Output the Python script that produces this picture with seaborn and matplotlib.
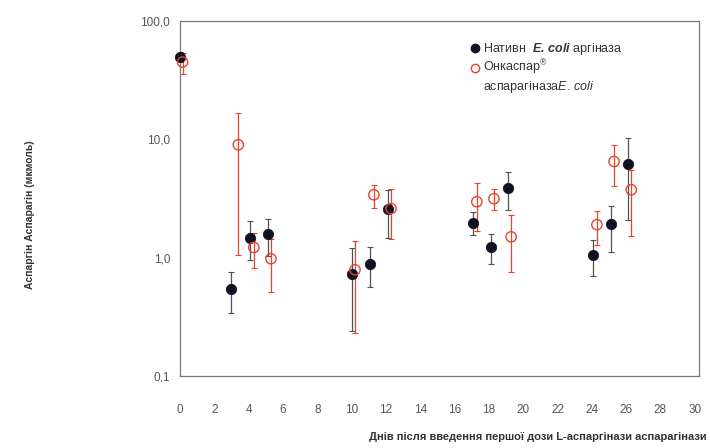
import matplotlib
matplotlib.use("Agg")
import matplotlib.pyplot as plt
import seaborn as sns
import pandas as pd
import numpy as np
from matplotlib.lines import Line2D

sns.set_style("white")
plt.rcParams['font.family'] = ['Liberation Sans', 'DejaVu Sans']
plt.rcParams['mathtext.fontset'] = 'custom'
plt.rcParams['mathtext.it'] = 'Liberation Sans:italic'
plt.rcParams['mathtext.rm'] = 'Liberation Sans'
plt.rcParams['mathtext.bf'] = 'Liberation Sans:bold:italic'

# Нативна E. coli аспарагіназа (чорні точки)
native_day = [0.0, 3.0, 4.1, 5.1, 10.05, 11.05, 12.1, 17.1, 18.1, 19.1, 24.1, 25.1, 26.1]
native_val = [50.0, 0.54, 1.48, 1.6, 0.73, 0.89, 2.6, 1.98, 1.24, 3.9, 1.06, 1.94, 6.2]
native_hi = [55.0, 0.75, 2.05, 2.14, 1.2, 1.24, 3.75, 2.45, 1.6, 5.3, 1.42, 2.75, 10.3]
native_lo = [45.0, 0.34, 0.95, 1.04, 0.24, 0.56, 1.48, 1.56, 0.89, 2.55, 0.70, 1.12, 2.1]

# Онкаспар (відкриті кола)
onc_day = [0.15, 3.4, 4.3, 5.3, 10.2, 11.3, 12.3, 17.3, 18.3, 19.3, 24.3, 25.3, 26.3]
onc_val = [45.0, 9.0, 1.22, 0.98, 0.79, 3.4, 2.6, 2.97, 3.15, 1.5, 1.9, 6.5, 3.75]
onc_hi = [54.0, 16.8, 1.63, 1.45, 1.37, 4.1, 3.8, 4.3, 3.8, 2.3, 2.5, 8.9, 5.5]
onc_lo = [36.0, 1.05, 0.81, 0.51, 0.23, 2.65, 1.45, 1.69, 2.55, 0.75, 1.29, 4.0, 1.53]

x_ticks = list(range(0, 31, 2))
y_ticks = [0.1, 1, 10, 100]
y_labels = ['0,1', '1,0', '10,0', '100,0']

native = pd.DataFrame({'day': native_day, 'val': native_val})
onc = pd.DataFrame({'day': onc_day, 'val': onc_val})

fig = plt.figure(figsize=(7.1, 4.48), dpi=100)
ax = fig.add_axes([180 / 710, 1 - 376 / 448, 519 / 710, 355 / 448])

red = '#e8432e'
ax.errorbar(native_day, native_val,
            yerr=[np.array(native_val) - np.array(native_lo), np.array(native_hi) - np.array(native_val)],
            fmt='none', ecolor='#505050', elinewidth=0.9, capsize=2, capthick=0.8, zorder=2)
ax.errorbar(onc_day, onc_val,
            yerr=[np.array(onc_val) - np.array(onc_lo), np.array(onc_hi) - np.array(onc_val)],
            fmt='none', ecolor=red, elinewidth=0.9, capsize=2, capthick=0.8, zorder=2)

sns.scatterplot(data=native, x='day', y='val', ax=ax, color='#111122', s=55,
                edgecolor='#111122', zorder=3, clip_on=False)
sns.scatterplot(data=onc, x='day', y='val', ax=ax, facecolor='none', s=55,
                edgecolor=red, linewidth=1.0, zorder=4, clip_on=False)

ax.set_yscale('log')
ax.set_ylim(0.1, 100)
ax.set_xlim(0, 30.25)
ax.set_xticks(x_ticks)
ax.set_yticks(y_ticks)
ax.set_yticklabels(y_labels)
ax.minorticks_off()
ax.tick_params(axis='x', length=3, width=0.8, color='#888888', pad=17,
               labelsize=8.5, labelcolor='#555555')
ax.tick_params(axis='y', length=3, width=0.8, color='#888888', pad=4,
               labelsize=8.5, labelcolor='#555555')
ax.set_xlabel('')
ax.set_ylabel('')
for s in ax.spines.values():
    s.set_color('#777777')
    s.set_linewidth(0.9)

fig.text(0.042, 0.52, 'Аспаргін Аспарагін (мкмоль)', rotation=90, ha='center', va='center',
         fontsize=7.5, fontweight='bold', color='#333333')
fig.text(0.995, 0.025, 'Днів після введення першої дози L-аспаргінази аспарагінази',
         ha='right', va='center', fontsize=8, fontweight='bold', color='#333333')

handles = [
    Line2D([], [], marker='o', linestyle='none', color='#111122', markersize=6),
    Line2D([], [], marker='o', linestyle='none', markerfacecolor='none',
           markeredgecolor=red, markersize=6),
    Line2D([], [], linestyle='none'),
]
labels = ['Нативн  $\\mathbf{E.\\,coli}$ аргіназа', 'Онкаспар$^{®}$', 'аспарагіназа$\\it{E.\\,coli}$']
ax.legend(handles, labels, loc='upper left', bbox_to_anchor=(0.535, 0.975), frameon=False,
          fontsize=9, handletextpad=0.1, handlelength=1.0, labelspacing=0.1,
          labelcolor='#333333')

fig.savefig('out.png', dpi=100)
